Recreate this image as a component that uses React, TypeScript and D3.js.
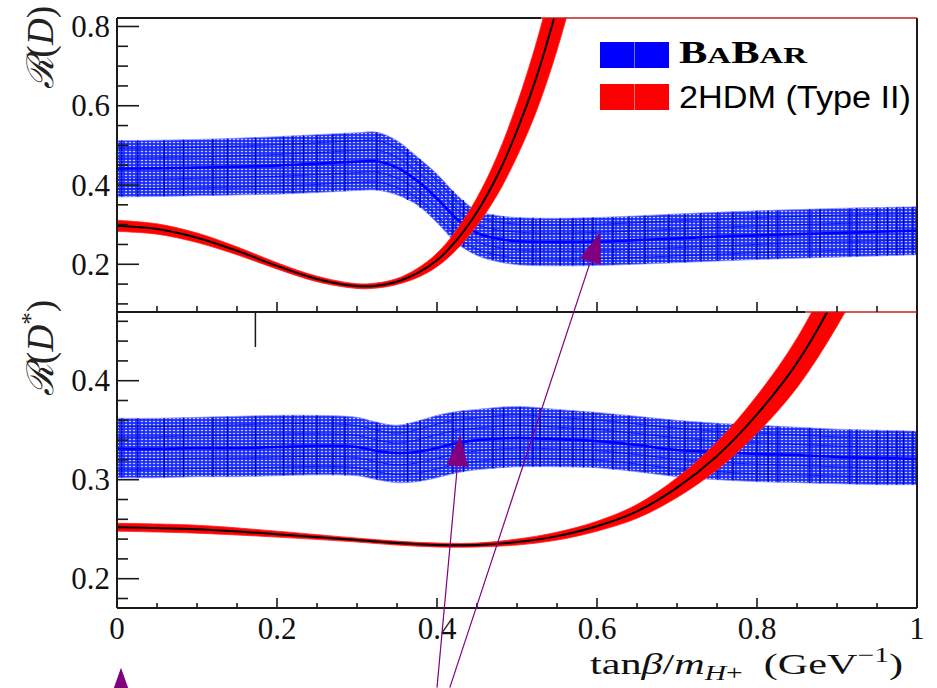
import React from 'react';
import * as d3 from 'd3';

const W = 937;
const H = 688;

// BaBar R(D) band (low / central / high) vs tanβ/mH+
const rdT = [0, 0.05, 0.1, 0.15, 0.2, 0.25, 0.3, 0.325, 0.35, 0.375, 0.4, 0.425, 0.45, 0.475, 0.5, 0.55, 0.6, 0.65, 0.7, 0.75, 0.8, 0.85, 0.9, 0.95, 1];
const rdLow = [0.370, 0.371, 0.373, 0.375, 0.377, 0.381, 0.386, 0.387, 0.375, 0.350, 0.305, 0.253, 0.222, 0.207, 0.199, 0.196, 0.197, 0.200, 0.204, 0.208, 0.212, 0.215, 0.218, 0.221, 0.224];
const rdMid = [0.441, 0.442, 0.444, 0.446, 0.449, 0.454, 0.459, 0.460, 0.444, 0.411, 0.366, 0.314, 0.279, 0.265, 0.258, 0.256, 0.257, 0.261, 0.265, 0.270, 0.273, 0.276, 0.279, 0.282, 0.285];
const rdHigh = [0.512, 0.513, 0.515, 0.518, 0.522, 0.527, 0.532, 0.533, 0.512, 0.472, 0.428, 0.375, 0.335, 0.323, 0.318, 0.316, 0.318, 0.322, 0.327, 0.331, 0.335, 0.338, 0.341, 0.343, 0.345];

// 2HDM type II prediction for R(D)
const hdT = [0, 0.05, 0.1, 0.15, 0.2, 0.25, 0.3, 0.325, 0.35, 0.375, 0.4, 0.425, 0.45, 0.475, 0.5, 0.525, 0.55, 0.575];
const hdMid = [0.297, 0.289, 0.267, 0.234, 0.196, 0.163, 0.145, 0.146, 0.156, 0.177, 0.210, 0.262, 0.332, 0.422, 0.537, 0.676, 0.848, 1.05];
const hdLow = [0.283, 0.276, 0.255, 0.224, 0.188, 0.156, 0.139, 0.140, 0.149, 0.166, 0.194, 0.238, 0.298, 0.374, 0.472, 0.590, 0.740, 0.92];
const hdHigh = [0.311, 0.302, 0.279, 0.244, 0.204, 0.170, 0.151, 0.153, 0.164, 0.189, 0.228, 0.288, 0.368, 0.472, 0.605, 0.765, 0.960, 1.19];

// BaBar R(D*) band
const rsT = [0, 0.05, 0.1, 0.15, 0.2, 0.25, 0.3, 0.325, 0.35, 0.375, 0.4, 0.425, 0.45, 0.5, 0.55, 0.6, 0.65, 0.7, 0.75, 0.8, 0.85, 0.9, 0.95, 1];
const rsLow = [0.302, 0.302, 0.303, 0.303, 0.304, 0.305, 0.304, 0.300, 0.297, 0.298, 0.302, 0.307, 0.310, 0.313, 0.313, 0.312, 0.308, 0.303, 0.300, 0.298, 0.297, 0.296, 0.295, 0.295];
const rsMid = [0.331, 0.331, 0.332, 0.332, 0.333, 0.334, 0.333, 0.329, 0.327, 0.328, 0.332, 0.337, 0.340, 0.342, 0.341, 0.339, 0.335, 0.330, 0.328, 0.326, 0.325, 0.323, 0.322, 0.321];
const rsHigh = [0.362, 0.362, 0.363, 0.364, 0.365, 0.365, 0.363, 0.358, 0.355, 0.359, 0.365, 0.369, 0.371, 0.374, 0.371, 0.368, 0.364, 0.360, 0.357, 0.355, 0.353, 0.351, 0.350, 0.349];

// 2HDM type II prediction for R(D*)
const hsT = [0, 0.1, 0.2, 0.3, 0.35, 0.4, 0.45, 0.5, 0.55, 0.6, 0.65, 0.7, 0.75, 0.8, 0.85, 0.9, 0.95];
const hsMid = [0.252, 0.250, 0.245, 0.239, 0.236, 0.234, 0.234, 0.237, 0.243, 0.253, 0.268, 0.292, 0.324, 0.366, 0.418, 0.488, 0.575];
const hsLow = [0.248, 0.246, 0.242, 0.237, 0.234, 0.232, 0.232, 0.234, 0.239, 0.248, 0.261, 0.282, 0.310, 0.347, 0.393, 0.455, 0.530];
const hsHigh = [0.256, 0.254, 0.248, 0.241, 0.238, 0.236, 0.236, 0.240, 0.247, 0.258, 0.275, 0.302, 0.338, 0.385, 0.443, 0.521, 0.620];

// scan points drawn as vertical error bars inside the BaBar bands
const scanT = [0.006, 0.026, 0.059, 0.083, 0.12, 0.138, 0.173, 0.208, 0.22, 0.233, 0.25, 0.27, 0.285, 0.325, 0.363, 0.379, 0.42, 0.433, 0.47, 0.483, 0.504, 0.52, 0.529, 0.554, 0.57, 0.583, 0.595, 0.62, 0.64, 0.66, 0.69, 0.71, 0.73, 0.751, 0.77, 0.8, 0.814, 0.826, 0.866, 0.879, 0.916, 0.925, 0.95, 0.963, 0.975, 0.983, 0.995];
const bandFractions = [0.14, 0.31, 0.69, 0.86];

// axes
const xMajor = [0, 0.2, 0.4, 0.6, 0.8, 1];
const xLabels = ['0', '0.2', '0.4', '0.6', '0.8', '1'];
const xMinor = [0.05, 0.1, 0.15, 0.25, 0.3, 0.35, 0.45, 0.5, 0.55, 0.65, 0.7, 0.75, 0.85, 0.9, 0.95];
const topMajor = [0.2, 0.4, 0.6, 0.8];
const topLabels = ['0.2', '0.4', '0.6', '0.8'];
const topMinor = [0.1, 0.15, 0.25, 0.3, 0.35, 0.45, 0.5, 0.55, 0.65, 0.7, 0.75];
const botMajor = [0.2, 0.3, 0.4];
const botLabels = ['0.2', '0.3', '0.4'];
const botMinor = [0.18, 0.22, 0.24, 0.26, 0.28, 0.32, 0.34, 0.36, 0.38, 0.42, 0.44, 0.46];

// purple annotation arrows: tail (t, value on lower-panel scale) -> tip (t, value on its panel)
const arrows = [
  { t0: 0.4, v0: 0.09, t1: 0.429, v1: 0.345, panel: 'bot' },
  { t0: 0.416, v0: 0.09, t1: 0.604, v1: 0.2815, panel: 'top' },
  { t0: 0.005, v0: 0.0, t1: 0.005, v1: 0.11, panel: 'bot' },
];

const x = d3.scaleLinear().domain([0, 1]).range([117, 917]);
const yTop = d3.scaleLinear().domain([0.0796, 0.8214]).range([312, 18]);
const yBot = d3.scaleLinear().domain([0.1704, 0.4694]).range([608, 312]);

const serif = "'Liberation Serif', 'DejaVu Serif', serif";
const curve = d3.curveCatmullRom.alpha(0.5);

function bandPath(t, low, high, y) {
  return d3.area<number>()
    .x((_, i) => x(t[i]))
    .y0((_, i) => y(low[i]))
    .y1((_, i) => y(high[i]))
    .curve(curve)(low);
}

function linePath(t, vals, y) {
  return d3.line<number>()
    .x((_, i) => x(t[i]))
    .y((v) => y(v))
    .curve(curve)(vals);
}

function BabarBand({ t, low, mid, high, y }) {
  const lowAt = d3.scaleLinear().domain(t).range(low);
  const highAt = d3.scaleLinear().domain(t).range(high);
  return (
    <g>
      <path d={bandPath(t, low, high, y)} fill="url(#babarFill)" stroke="#8f97ff" strokeWidth={0.8} />
      {bandFractions.map((f) => (
        <path key={f} d={linePath(t, t.map((_, i) => low[i] + f * (high[i] - low[i])), y)}
          fill="none" stroke="#0010e8" strokeWidth={1} opacity={0.85} />
      ))}
      {scanT.map((s) => (
        <line key={s} x1={x(s)} x2={x(s)} y1={y(lowAt(s))} y2={y(highAt(s))} stroke="#0006d0" strokeWidth={1.4} />
      ))}
      <path d={linePath(t, mid, y)} fill="none" stroke="#0000ff" strokeWidth={2.6} />
    </g>
  );
}

function HdmBand({ t, low, mid, high, y }) {
  return (
    <g>
      <path d={bandPath(t, low, high, y)} fill="#ff0000" stroke="#ff2020" strokeWidth={0.8} />
      <path d={linePath(t, mid, y)} fill="none" stroke="#000" strokeWidth={2} />
    </g>
  );
}

function Arrow({ a }) {
  const tx = x(a.t1);
  const ty = a.panel === 'top' ? yTop(a.v1) : yBot(a.v1);
  const sx = x(a.t0);
  const sy = yBot(a.v0);
  const len = Math.hypot(tx - sx, ty - sy);
  const ux = (tx - sx) / len;
  const uy = (ty - sy) / len;
  const hl = 31;
  const hw = 11;
  const bx = tx - ux * hl;
  const by = ty - uy * hl;
  const pts = [[tx, ty], [bx - uy * hw, by + ux * hw], [bx + uy * hw, by - ux * hw]];
  return (
    <g>
      <line x1={sx} y1={sy} x2={bx} y2={by} stroke="#800080" strokeWidth={1.2} />
      <polygon points={pts.map((p) => p.join(',')).join(' ')} fill="#800080" />
    </g>
  );
}

export default function App() {
  const left = x(0);
  const right = x(1);
  const topY = yTop.range()[1];
  const midY = yTop.range()[0];
  const botY = yBot.range()[0];
  return (
    <svg width={W} height={H} viewBox={`0 0 ${W} ${H}`}
      style={{ position: 'absolute', left: 0, top: 0, background: '#fff' }}>
      <defs>
        <pattern id="babarFill" width={4} height={3} patternUnits="userSpaceOnUse">
          <rect width={4} height={3} fill="#1a2cff" />
          <ellipse cx={2} cy={1.5} rx={1.3} ry={0.7} fill="#c9cdff" />
        </pattern>
        <clipPath id="clipTop"><rect x={left} y={topY} width={right - left} height={midY - topY} /></clipPath>
        <clipPath id="clipBot"><rect x={left} y={midY} width={right - left} height={botY - midY} /></clipPath>
      </defs>

      <g clipPath="url(#clipTop)">
        <BabarBand t={rdT} low={rdLow} mid={rdMid} high={rdHigh} y={yTop} />
        <HdmBand t={hdT} low={hdLow} mid={hdMid} high={hdHigh} y={yTop} />
      </g>
      <g clipPath="url(#clipBot)">
        <BabarBand t={rsT} low={rsLow} mid={rsMid} high={rsHigh} y={yBot} />
        <HdmBand t={hsT} low={hsLow} mid={hsMid} high={hsHigh} y={yBot} />
      </g>

      {/* frame */}
      <g stroke="#1a1a1a" strokeWidth={2} fill="none">
        <line x1={left} x2={left} y1={topY} y2={botY} />
        <line x1={right} x2={right} y1={topY} y2={botY} />
        <line x1={left} x2={x(0.53)} y1={topY} y2={topY} />
        <line x1={left} x2={x(0.86)} y1={midY} y2={midY} />
        <line x1={left} x2={right} y1={botY} y2={botY} />
        {/* stray scan error bar poking into the lower panel */}
        <line x1={x(0.173)} x2={x(0.173)} y1={yBot(0.4694)} y2={yBot(0.434)} strokeWidth={1.5} />
      </g>
      <g stroke="#c02020" strokeWidth={1.6}>
        <line x1={x(0.53)} x2={right} y1={topY} y2={topY} />
        <line x1={x(0.86)} x2={right} y1={midY} y2={midY} />
      </g>

      {/* ticks */}
      <g stroke="#1a1a1a" strokeWidth={1.6}>
        {topMajor.map((v) => <line key={'tM' + v} x1={left} x2={left + 22} y1={yTop(v)} y2={yTop(v)} />)}
        {topMinor.map((v) => <line key={'tm' + v} x1={left} x2={left + 11} y1={yTop(v)} y2={yTop(v)} />)}
        {botMajor.map((v) => <line key={'bM' + v} x1={left} x2={left + 22} y1={yBot(v)} y2={yBot(v)} />)}
        {botMinor.map((v) => <line key={'bm' + v} x1={left} x2={left + 11} y1={yBot(v)} y2={yBot(v)} />)}
        {xMajor.slice(1, -1).map((v) => (
          <g key={'xM' + v}>
            <line x1={x(v)} x2={x(v)} y1={midY} y2={midY - 10} />
            <line x1={x(v)} x2={x(v)} y1={botY} y2={botY - 10} />
          </g>
        ))}
        {xMinor.map((v) => (
          <g key={'xm' + v}>
            <line x1={x(v)} x2={x(v)} y1={midY} y2={midY - 6} />
            <line x1={x(v)} x2={x(v)} y1={botY} y2={botY - 5} />
          </g>
        ))}
      </g>

      {/* tick labels */}
      {topMajor.map((v, i) => (
        <text key={'tl' + v} x={110} y={yTop(v) + 10.5} textAnchor="end"
          style={{ fontFamily: serif, fontSize: 31 }} fill="#111">{topLabels[i]}</text>
      ))}
      {botMajor.map((v, i) => (
        <text key={'bl' + v} x={110} y={yBot(v) + 10.5} textAnchor="end"
          style={{ fontFamily: serif, fontSize: 31 }} fill="#111">{botLabels[i]}</text>
      ))}
      {xMajor.map((v, i) => (
        <text key={'xl' + v} x={x(v)} y={639} textAnchor="middle"
          style={{ fontFamily: serif, fontSize: 31 }} fill="#111">{xLabels[i]}</text>
      ))}

      {/* axis titles */}
      <text x={590} y={674} style={{ fontFamily: serif, fontSize: 30 }} fill="#111"
        textLength={313} lengthAdjust="spacingAndGlyphs">
        tan<tspan fontStyle="italic">β</tspan>/<tspan fontStyle="italic">m</tspan>
        <tspan fontSize={21} dy={6}><tspan fontStyle="italic">H</tspan>+</tspan>
        <tspan dy={-6}>{'\u2002(GeV'}</tspan>
        <tspan fontSize={21} dy={-12}>−1</tspan>
        <tspan dy={12}>)</tspan>
      </text>
      <text transform="translate(53, 6) rotate(-90)" textAnchor="end" style={{ fontFamily: serif, fontSize: 37 }} fill="#222">
        <tspan style={{ fontFamily: "'DejaVu Serif', serif" }} fontStyle="italic">ℛ</tspan>(<tspan fontStyle="italic">D</tspan>)
      </text>
      <text transform="translate(53, 300) rotate(-90)" textAnchor="end" style={{ fontFamily: serif, fontSize: 37 }} fill="#222">
        <tspan style={{ fontFamily: "'DejaVu Serif', serif" }} fontStyle="italic">ℛ</tspan>(<tspan fontStyle="italic">D</tspan>
        <tspan fontSize={25} dy={-14}>*</tspan><tspan dy={14}>)</tspan>
      </text>

      {/* legend */}
      <rect x={600} y={42} width={69} height={26} fill="#0000ff" />
      <line x1={634.5} x2={634.5} y1={42} y2={68} stroke="#6f6fff" strokeWidth={1} />
      <rect x={600} y={84} width={69} height={26} fill="#ff0000" />
      <line x1={634.5} x2={634.5} y1={84} y2={110} stroke="#ff7070" strokeWidth={1} />
      <text x={679} y={63} style={{ fontFamily: serif, fontSize: 31, fontWeight: 'bold' }} fill="#000"
        textLength={128} lengthAdjust="spacingAndGlyphs">
        B<tspan fontSize={24}>A</tspan>B<tspan fontSize={24}>AR</tspan>
      </text>
      <text x={679} y={108} style={{ fontFamily: "'Liberation Sans', Arial, sans-serif", fontSize: 31 }} fill="#000"
        textLength={232} lengthAdjust="spacingAndGlyphs">
        2HDM (Type II)
      </text>

      {arrows.map((a, i) => <Arrow key={i} a={a} />)}
    </svg>
  );
}
